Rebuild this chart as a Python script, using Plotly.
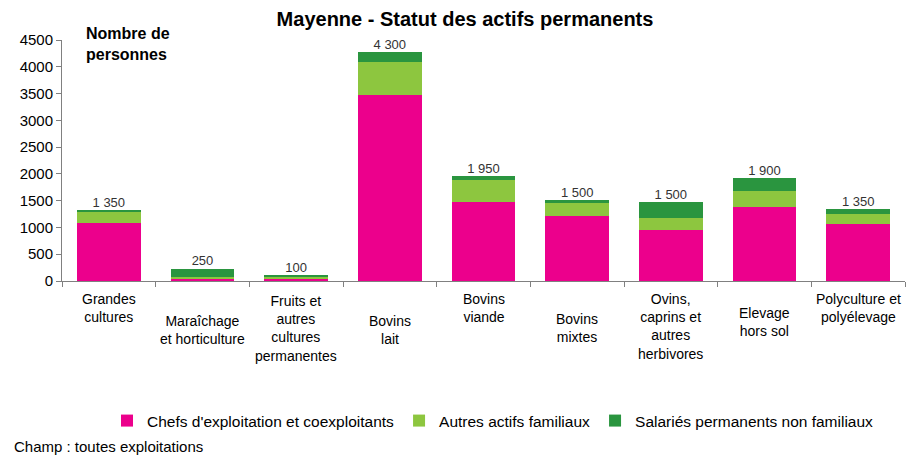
import plotly.graph_objects as go

categories = ["Grandes<br>cultures", "Maraîchage<br>et horticulture", "Fruits et<br>autres<br>cultures<br>permanentes",
              "Bovins<br>lait", "Bovins<br>viande", "Bovins<br>mixtes", "Ovins,<br>caprins et<br>autres<br>herbivores",
              "Elevage<br>hors sol", "Polyculture et<br>polyélevage"]
chefs = [1080, 40, 40, 3480, 1470, 1210, 950, 1380, 1060]
autres_familiaux = [200, 30, 35, 610, 410, 260, 220, 295, 190]
salaries = [40, 160, 40, 190, 75, 35, 300, 240, 90]
total_labels = ["1 350", "250", "100", "4 300", "1 950", "1 500", "1 500", "1 900", "1 350"]
y_ticks = [0, 500, 1000, 1500, 2000, 2500, 3000, 3500, 4000, 4500]

label_shift = [-8, -30, -10, -30, -8, -28, -8, -22, -8]

FONT = "Liberation Sans, Arial"
x = list(range(len(categories)))
totals = [a + b + c for a, b, c in zip(chefs, autres_familiaux, salaries)]

fig = go.Figure()
fig.add_trace(go.Bar(x=x, y=chefs, name="Chefs d'exploitation et coexploitants", marker_color="#EC008C",
                     marker_line_width=0, width=0.68))
fig.add_trace(go.Bar(x=x, y=autres_familiaux, name="Autres actifs familiaux", marker_color="#8DC63F",
                     marker_line_width=0, width=0.68))
fig.add_trace(go.Bar(x=x, y=salaries, name="Salariés permanents non familiaux", marker_color="#2A953F",
                     marker_line_width=0, width=0.68))
fig.add_trace(go.Scatter(x=x, y=totals, mode="text", text=total_labels, textposition="top center",
                         textfont=dict(family=FONT, size=13, color="#333333"),
                         showlegend=False, hoverinfo="skip", cliponaxis=False))

for i, (cat, s) in enumerate(zip(categories, label_shift)):
    fig.add_annotation(x=i, y=0, xref="x", yref="paper", text=cat, showarrow=False,
                       yanchor="top", yshift=s, align="center",
                       font=dict(family=FONT, size=14, color="black"))

W, H = 907, 455
L, R, T, B = 62, 2, 40, 174
pw, ph = W - L - R, H - T - B

fig.add_annotation(x=(84 - L) / pw, y=(H - B - 44) / ph, xref="paper", yref="paper",
                   text="<b>Nombre de<br>personnes</b>",
                   showarrow=False, xanchor="left", yanchor="middle", align="left",
                   font=dict(family=FONT, size=16, color="black"))
fig.add_annotation(x=(12 - L) / pw, y=(H - B - 446) / ph, xref="paper", yref="paper",
                   text="Champ : toutes exploitations",
                   showarrow=False, xanchor="left", yanchor="middle",
                   font=dict(family=FONT, size=15, color="black"))

fig.update_layout(
    width=W, height=H, barmode="stack", bargap=0.32,
    margin=dict(l=L, r=R, t=T, b=B),
    plot_bgcolor="white", paper_bgcolor="white",
    title=dict(text="<b>Mayenne - Statut des actifs permanents</b>", x=465 / W, xanchor="center",
               y=1 - 19 / H, yanchor="middle", xref="container", yref="container",
               font=dict(family=FONT, size=20, color="black")),
    legend=dict(orientation="h", x=(107 - L) / pw, xanchor="left", y=(H - B - 421) / ph, yanchor="middle",
                font=dict(family=FONT, size=15.5, color="black"), traceorder="normal",
                itemwidth=30, tracegroupgap=0),
    showlegend=True,
)
fig.update_xaxes(range=[-0.5, len(categories) - 0.5], showticklabels=False, showline=True,
                 linecolor="#808080", linewidth=1, ticks="outside", tickcolor="#808080", ticklen=5,
                 tickvals=[i - 0.5 for i in range(len(categories) + 1)], showgrid=False, zeroline=False,
                 automargin=False)
fig.update_yaxes(range=[0, 4500], tickvals=y_ticks, showline=True, linecolor="#808080", linewidth=1,
                 ticks="outside", tickcolor="#808080", ticklen=5, showgrid=False, zeroline=False,
                 automargin=False, tickfont=dict(family=FONT, size=15, color="black"))

fig.write_html("out.html", config={"displayModeBar": False},
               post_script="document.body.style.margin='0';document.body.style.padding='0';")
